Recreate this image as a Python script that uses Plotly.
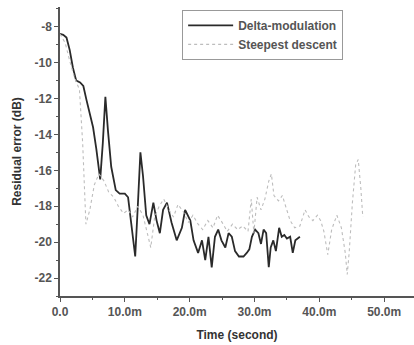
import plotly.graph_objects as go

# Residual error over time (time in ms, error in dB)
delta_t = [0.0, 0.5, 1.0, 1.5, 2.0, 2.5, 3.1, 3.6, 4.1, 4.6, 5.1, 5.6, 6.2, 6.6, 7.0, 7.4,
           7.9, 8.6, 9.2, 10.0, 10.5, 11.0, 11.6, 12.0, 12.4, 12.8, 13.3, 13.8, 14.4, 14.9,
           15.4, 15.9, 16.5, 17.2, 18.0, 18.8, 19.3, 20.1, 20.6, 21.3, 21.9, 22.4, 22.9,
           23.4, 23.9, 24.4, 24.9, 25.5, 26.0, 26.5, 27.0, 27.6, 28.3, 28.8, 29.2, 29.6,
           30.1, 30.6, 31.0, 31.4, 31.8, 32.2, 32.5, 32.9, 33.3, 33.8, 34.2, 34.6, 35.0,
           35.5, 35.9, 36.3, 36.6, 37.0]
delta_db = [-8.4, -8.45, -8.6, -9.3, -10.3, -11.0, -11.1, -11.3, -12.1, -12.8, -13.6, -14.8,
            -16.5, -14.5, -11.9, -13.8, -15.8, -17.1, -17.3, -17.3, -17.5, -19.0, -20.8,
            -18.0, -15.0, -16.3, -18.5, -19.0, -17.8, -18.8, -19.5, -18.2, -17.8, -18.9,
            -19.9, -19.2, -18.2, -18.8, -19.9, -20.6, -19.9, -21.0, -19.7, -21.4, -19.7,
            -19.3, -19.9, -20.3, -19.5, -19.7, -20.5, -20.8, -20.8, -20.6, -20.4, -19.7,
            -19.3, -19.5, -20.1, -19.3, -19.5, -21.4, -20.3, -19.9, -20.5, -19.2, -19.7,
            -19.6, -19.8, -19.7, -20.6, -19.9, -19.8, -19.7]

steep_t = [0.0, 0.8, 1.5, 2.2, 3.0, 3.5, 4.0, 4.6, 5.3, 6.0, 6.8, 7.5, 8.3, 9.0, 9.8, 10.5,
           11.2, 12.0, 12.8, 13.5, 14.0, 14.6, 15.3, 16.0, 16.8, 17.5, 18.2, 19.0, 19.8,
           20.5, 21.3, 22.0, 22.8, 23.6, 24.3, 25.0, 25.8, 26.6, 27.4, 28.2, 29.0, 29.5,
           29.9, 30.4, 31.0, 31.6, 32.2, 32.6, 33.0, 33.7, 34.3, 34.8, 35.5, 36.2, 37.0,
           37.8, 38.4, 39.0, 39.7, 40.2, 40.7, 41.3, 41.9, 42.7, 43.4, 44.0, 44.3, 44.6,
           45.1, 45.6, 46.0, 46.4, 46.7]
steep_db = [-8.4, -8.9, -9.9, -10.8, -11.5, -14.5, -19.0, -18.2, -16.8, -16.2, -16.6, -17.2,
            -17.5, -18.0, -18.4, -18.2, -18.6, -18.0, -18.5, -19.6, -20.3, -18.6, -18.0,
            -17.6, -18.2, -18.6, -17.9, -18.3, -18.9, -18.5, -19.0, -19.3, -18.8, -19.2,
            -18.5, -18.9, -19.4, -19.0, -19.3, -19.1, -19.4, -17.6, -19.5, -17.5, -18.2,
            -17.6, -16.6, -16.2, -17.4, -17.7, -17.4, -18.0, -18.8, -19.2, -19.1, -18.2,
            -18.6, -18.8, -18.5, -18.8, -19.4, -20.7, -19.3, -18.5, -19.2, -20.6, -21.8,
            -20.6, -17.8, -15.7, -15.4, -17.0, -18.6]

x_ticks = [0, 10, 20, 30, 40, 50]
x_labels = ["0.0", "10.0m", "20.0m", "30.0m", "40.0m", "50.0m"]
y_ticks = [-8, -10, -12, -14, -16, -18, -20, -22]
y_labels = ["-8", "-10", "-12", "-14", "-16", "-18", "-20", "-22"]

FAMILY = "Liberation Sans, Arial, sans-serif"
tick_font = dict(family=FAMILY, size=12, color="#555")
title_font = dict(family=FAMILY, size=12, color="#333")

fig = go.Figure()
fig.add_trace(go.Scatter(x=delta_t, y=delta_db, mode="lines", name="<b>Delta-modulation</b>",
                         line=dict(color="#2a2a2a", width=1.8)))
fig.add_trace(go.Scatter(x=steep_t, y=steep_db, mode="lines", name="<b>Steepest descent</b>",
                         line=dict(color="#bdbdbd", width=1.1, dash="dot")))

fig.update_layout(
    width=414, height=345,
    margin=dict(l=60, r=0, t=7, b=49),
    paper_bgcolor="white", plot_bgcolor="white",
    font=tick_font,
    showlegend=True,
    legend=dict(x=0.345, y=0.99, xanchor="left", yanchor="top",
                bordercolor="#999", borderwidth=1, bgcolor="white",
                font=dict(family=FAMILY, size=12, color="#555"),
                tracegroupgap=0, itemwidth=45),
    xaxis=dict(range=[0, 54.6], tickvals=x_ticks, ticktext=["<b>%s</b>" % s for s in x_labels],
               tickfont=tick_font,
               showgrid=False, zeroline=False, showline=True, linecolor="#555", linewidth=1.5,
               ticks="outside", ticklen=4, tickcolor="#555",
               minor=dict(dtick=5, ticks="outside", ticklen=2, tickcolor="#555"),
               title=dict(text="<b>Time (second)</b>", standoff=12, font=title_font)),
    yaxis=dict(range=[-23.0, -6.9], tickvals=y_ticks, ticktext=["<b>%s</b>" % s for s in y_labels],
               tickfont=tick_font,
               showgrid=False, zeroline=False, showline=True, linecolor="#555", linewidth=1.5,
               ticks="outside", ticklen=4, tickcolor="#555",
               minor=dict(dtick=1, ticks="outside", ticklen=2, tickcolor="#555"),
               title=dict(text="<b>Residual error (dB)</b>", standoff=10, font=title_font)),
)

fig.write_html("out.html")
